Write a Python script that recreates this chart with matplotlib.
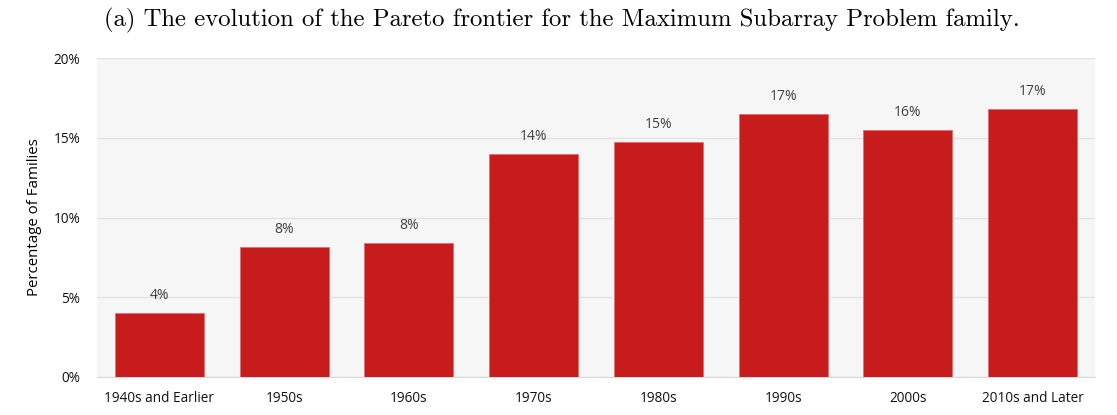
import numpy as np
import matplotlib.pyplot as plt
from matplotlib.ticker import FuncFormatter

# data
decades = ["1940s and Earlier", "1950s", "1960s", "1970s", "1980s",
           "1990s", "2000s", "2010s and Later"]
share = [4.0, 8.15, 8.4, 14.0, 14.75, 16.5, 15.5, 16.8]
labels = ["4%", "8%", "8%", "14%", "15%", "17%", "16%", "17%"]

fig = plt.figure(figsize=(11.17, 4.15), dpi=100)
ax = fig.add_axes([0.0868, 0.0916, 0.8935, 0.7686])
ax.set_facecolor("#f6f6f6")

x = np.arange(len(decades))
bars = ax.bar(x, share, width=0.713, color="#c81c1c", edgecolor="#e07070",
              linewidth=0.6, zorder=3)

for b, t in zip(bars, labels):
    ax.annotate(t, (b.get_x() + b.get_width() / 2, b.get_height()),
                xytext=(0, 7), textcoords="offset points", ha="center",
                va="bottom", fontsize=10, color="#404040", family="Open Sans")

ax.set_xlim(-0.5, len(decades) - 0.5)
ax.set_ylim(0, 20)
ax.set_yticks([0, 5, 10, 15, 20])
ax.yaxis.set_major_formatter(FuncFormatter(lambda v, p: f"{v:.0f}%"))
ax.grid(axis="y", color="#e2e2e2", linewidth=1, zorder=0)
ax.set_xticks(x)
ax.set_xticklabels(decades)

for s in ["top", "right", "left"]:
    ax.spines[s].set_visible(False)
ax.spines["bottom"].set_color("#d8d8d8")
ax.tick_params(length=0, labelsize=9.8, colors="#111111", pad=10)
ax.tick_params(axis="y", pad=12)
for t in ax.get_xticklabels() + ax.get_yticklabels():
    t.set_family("Open Sans")

ax.set_ylabel("Percentage of Families", fontsize=10.8, family="Open Sans",
              labelpad=8)

fig.text(0.503, 0.95, "(a) The evolution of the Pareto frontier for the Maximum Subarray Problem family.",
         ha="center", va="center", fontsize=17.8, family="cmr10")

plt.savefig("out.png", dpi=100)
